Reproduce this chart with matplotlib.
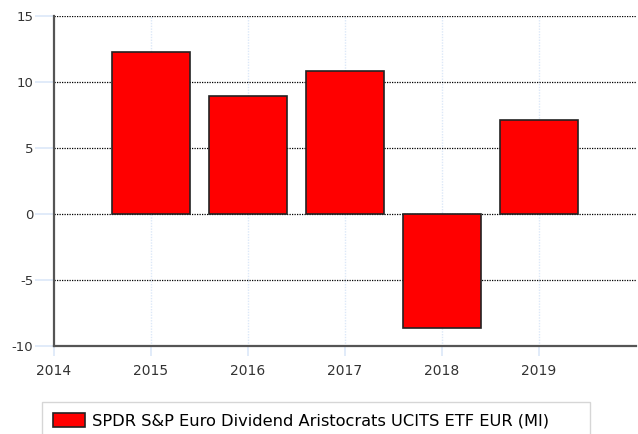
import matplotlib
matplotlib.use("Agg")
import matplotlib.pyplot as plt

plt.rcParams["axes.unicode_minus"] = False

years = [2015, 2016, 2017, 2018, 2019]
returns = [12.27, 8.95, 10.85, -8.65, 7.15]
series_name = "SPDR S&P Euro Dividend Aristocrats UCITS ETF EUR (MI)"
x_ticks = [2014, 2015, 2016, 2017, 2018, 2019]
y_ticks = [-10, -5, 0, 5, 10, 15]

fig = plt.figure(figsize=(6.38, 4.34), dpi=100)
ax = fig.add_axes([54 / 638, 1 - 346 / 434, 582 / 638, 330 / 434])

ax.bar(years, returns, width=0.8, color="#ff0000", edgecolor="#222222",
       linewidth=1.2, zorder=3, label=series_name)

ax.set_xlim(2014, 2020)
ax.set_ylim(-10, 15)
ax.set_xticks(x_ticks)
ax.set_yticks(y_ticks)

# grid: black dotted horizontals, pale blue verticals
for y in y_ticks[1:]:
    ax.axhline(y, color="black", linestyle=(0, (1, 1)), linewidth=0.9, zorder=1)
for x in x_ticks[1:]:
    ax.axvline(x, color="#dce8f8", linestyle=(0, (1, 1)), linewidth=1, zorder=0)

for side in ["top", "right"]:
    ax.spines[side].set_visible(False)
for side in ["left", "bottom"]:
    ax.spines[side].set_color("#555555")
    ax.spines[side].set_linewidth(1.6)

ax.tick_params(axis="y", length=14, color="#dce8f8", width=1.2, pad=1,
               labelsize=9.5, labelcolor="#333333")
ax.tick_params(axis="x", length=7, color="#dce8f8", width=1.2, pad=6,
               labelsize=10, labelcolor="#333333")

leg = fig.legend(loc="upper left",
                 bbox_to_anchor=(42 / 638, 0, 548 / 638, 1 - 402 / 434),
                 mode="expand", fontsize=11.7, frameon=True, fancybox=False,
                 handlelength=2.0, handleheight=1.0, borderpad=0.65,
                 handletextpad=0.45, borderaxespad=0)
leg.get_frame().set_edgecolor("#cccccc")
leg.get_frame().set_linewidth(1)

fig.savefig("out.png", dpi=100)
